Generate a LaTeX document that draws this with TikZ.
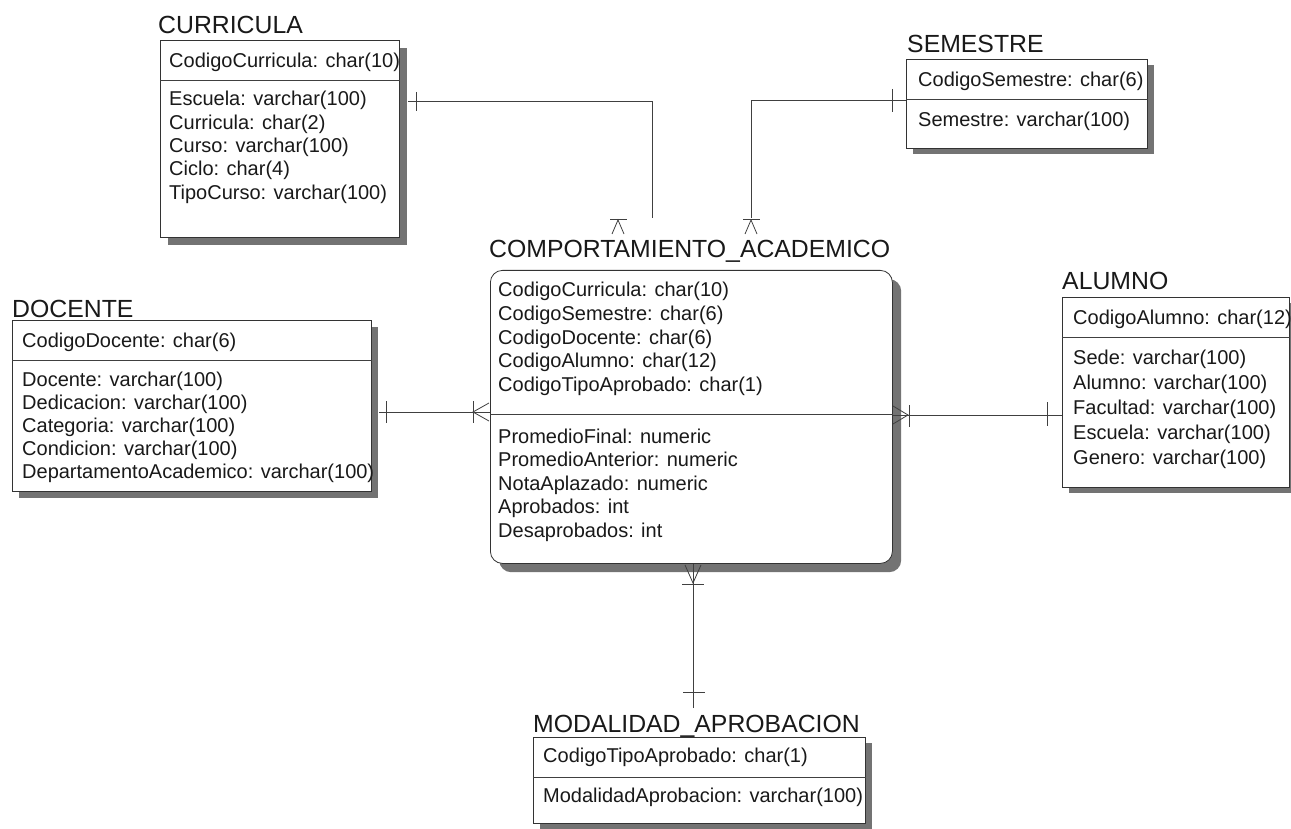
\documentclass[tikz,border=0pt]{standalone}
\usepackage{fontspec}
\setmainfont{Liberation Sans}
\tikzset{
  ent/.style={draw=black!80, line width=0.8pt, fill=white, inner sep=0pt, anchor=north west},
  shad/.style={fill=black!55, draw=none, inner sep=0pt, anchor=north west},
  attr/.style={anchor=base west, inner sep=0pt, font=\fontsize{20}{24}\selectfont, text=black!90},
  ttl/.style={anchor=base west, inner sep=0pt, font=\fontsize{24.8}{28}\selectfont, text=black!90},
  conn/.style={draw=black!75, line width=0.8pt},
  divl/.style={draw=black!75, line width=0.8pt},
}
\begin{document}
\begin{tikzpicture}[x=1pt,y=-1pt]
\useasboundingbox[fill=white] (0,0) rectangle (1291,829);

% ---------- shadows ----------
\node[shad, minimum width=239pt, minimum height=197pt] (curS) at (168,48) {};
\node[shad, minimum width=241pt, minimum height=89pt] (semS) at (913,65) {};
\node[shad, minimum width=359pt, minimum height=171pt] (docS) at (19,327) {};
\node[shad, minimum width=227pt, minimum height=190pt] (aluS) at (1069,303) {};
\node[shad, rounded corners=12pt, minimum width=402pt, minimum height=293pt] (compS) at (499,279) {};
\node[shad, minimum width=332pt, minimum height=86pt] (modS) at (540,743) {};

% ---------- connectors ----------
% CURRICULA - COMPORTAMIENTO
\coordinate (c1a) at (408,101);
\coordinate (c1b) at (652,101);
\coordinate (c1c) at (652,218);
\draw[conn] (c1a) -- (c1b) -- (c1c);
\draw[conn] (416,92) -- (416,111);
\draw[conn] (610,219) -- (627,219);
\draw[conn] (612,234) -- (618,220) -- (624,234);
% SEMESTRE - COMPORTAMIENTO
\coordinate (c2a) at (906,100);
\coordinate (c2b) at (751,100);
\coordinate (c2c) at (751,218);
\draw[conn] (c2a) -- (c2b) -- (c2c);
\draw[conn] (892,89) -- (892,112);
\draw[conn] (743,219) -- (760,219);
\draw[conn] (745,234) -- (751,220) -- (757,234);
% DOCENTE - COMPORTAMIENTO
\coordinate (c3a) at (379,412);
\coordinate (c3b) at (490,412);
\draw[conn] (c3a) -- (c3b);
\draw[conn] (386,401) -- (386,423);
\draw[conn] (473,401) -- (473,423);
\draw[conn] (489,403) -- (473,412) -- (489,421);
% ALUMNO - COMPORTAMIENTO
\coordinate (c4a) at (1062,415);
\coordinate (c4b) at (892,415);
\draw[conn] (c4a) -- (c4b);
\draw[conn] (1047,402) -- (1047,426);
\draw[conn] (909,405) -- (909,427);
\draw[conn] (893,406) -- (908,415) -- (893,424);
% MODALIDAD - COMPORTAMIENTO
\coordinate (c5a) at (693,708);
\coordinate (c5b) at (693,563);
\draw[conn] (c5a) -- (c5b);
\draw[conn] (683,692) -- (705,692);
\draw[conn] (682,584) -- (704,584);
\draw[conn] (685,565) -- (693,583) -- (701,565);

% ---------- CURRICULA ----------
\node[ttl] (curT) at (158,34) {CURRICULA};
\node[ent, minimum width=239pt, minimum height=197pt] (cur) at (160,40) {};
\draw[divl] (cur.west |- 0,80) -- (cur.east |- 0,80);
\node[attr] (curK) at (169,67.5) {CodigoCurricula: char(10)};
\foreach \t [count=\i] in {Escuela: varchar(100), Curricula: char(2), Curso: varchar(100), Ciclo: char(4), TipoCurso: varchar(100)}
  \node[attr] (cur\i) at (169,{106+(\i-1)*23.3}) {\t};

% ---------- SEMESTRE ----------
\node[ttl] (semT) at (907,53) {SEMESTRE};
\node[ent, minimum width=241pt, minimum height=89pt] (sem) at (906,59) {};
\draw[divl] (sem.west |- 0,99) -- (sem.east |- 0,99);
\node[attr] (semK) at (918,87) {CodigoSemestre: char(6)};
\node[attr] (sem1) at (918,127) {Semestre: varchar(100)};

% ---------- DOCENTE ----------
\node[ttl] (docT) at (12,317) {DOCENTE};
\node[ent, minimum width=359pt, minimum height=171pt] (doc) at (12,320) {};
\draw[divl] (doc.west |- 0,360) -- (doc.east |- 0,360);
\node[attr] (docK) at (22,347) {CodigoDocente: char(6)};
\foreach \t [count=\i] in {Docente: varchar(100), Dedicacion: varchar(100), Categoria: varchar(100), Condicion: varchar(100), DepartamentoAcademico: varchar(100)}
  \node[attr] (doc\i) at (22,{386+(\i-1)*23}) {\t};

% ---------- ALUMNO ----------
\node[ttl] (aluT) at (1062,290) {ALUMNO};
\node[ent, minimum width=227pt, minimum height=190pt] (alu) at (1062,297) {};
\draw[divl] (alu.west |- 0,337) -- (alu.east |- 0,337);
\node[attr] (aluK) at (1073,324) {CodigoAlumno: char(12)};
\foreach \t [count=\i] in {Sede: varchar(100), Alumno: varchar(100), Facultad: varchar(100), Escuela: varchar(100), Genero: varchar(100)}
  \node[attr] (alu\i) at (1073,{364+(\i-1)*25}) {\t};

% ---------- COMPORTAMIENTO_ACADEMICO ----------
\node[ttl] (compT) at (489,258) {COMPORTAMIENTO\_ACADEMICO};
\node[ent, rounded corners=12pt, minimum width=402pt, minimum height=293pt] (comp) at (490,270) {};
\draw[divl] (comp.west |- 0,414) -- (comp.east |- 0,414);
\foreach \t [count=\i] in {CodigoCurricula: char(10), CodigoSemestre: char(6), CodigoDocente: char(6), CodigoAlumno: char(12), CodigoTipoAprobado: char(1)}
  \node[attr] (compK\i) at (498,{297+(\i-1)*23.5}) {\t};
\foreach \t [count=\i] in {PromedioFinal: numeric, PromedioAnterior: numeric, NotaAplazado: numeric, Aprobados: int, Desaprobados: int}
  \node[attr] (compA\i) at (498,{443+(\i-1)*23.5}) {\t};

% ---------- MODALIDAD_APROBACION ----------
\node[ttl] (modT) at (533,732) {MODALIDAD\_APROBACION};
\node[ent, minimum width=332pt, minimum height=86pt] (mod) at (533,737) {};
\draw[divl] (mod.west |- 0,777) -- (mod.east |- 0,777);
\node[attr] (modK) at (543,762) {CodigoTipoAprobado: char(1)};
\node[attr] (mod1) at (543,802) {ModalidadAprobacion: varchar(100)};
\end{tikzpicture}
\end{document}
